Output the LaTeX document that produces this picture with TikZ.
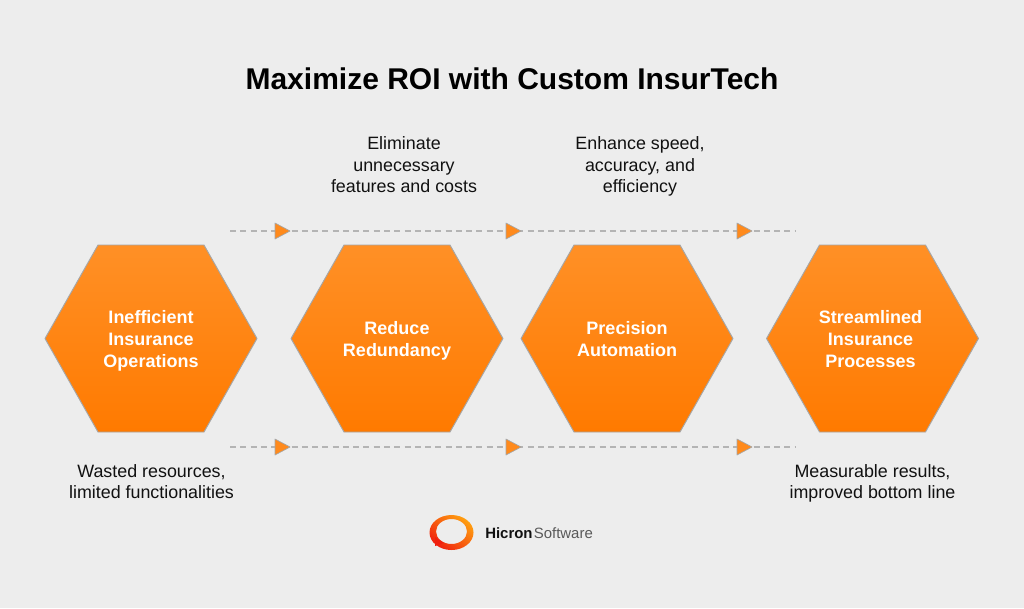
\documentclass[tikz,border=0pt]{standalone}
\usepackage{fontspec}
\setmainfont{Liberation Sans}
\newfontfamily\logofont{Liberation Sans}
\definecolor{bgc}{HTML}{EDEDED}
\definecolor{orgtop}{HTML}{FF9026}
\definecolor{orgbot}{HTML}{FF7A00}
\definecolor{orgmid}{HTML}{FF8A1C}
\definecolor{edgec}{HTML}{A6A6A6}
\definecolor{flowc}{HTML}{B4B4B4}
\definecolor{txt}{HTML}{111111}
\definecolor{logored}{HTML}{F0200F}
\definecolor{logoorg}{HTML}{FFA010}
\tikzset{
 x=0.75pt,y=-0.75pt,
 hexlabel/.style={text=white,font=\fontsize{13.5pt}{16.4pt}\selectfont\bfseries,align=center,inner sep=0},
 note/.style={text=txt,font=\fontsize{13.4pt}{16.2pt}\selectfont,align=center,inner sep=0},
 titletext/.style={text=black,font=\fontsize{22.5pt}{26pt}\selectfont\bfseries,inner sep=0},
 hexshape/.style={draw=edgec,line width=0.7pt,top color=orgtop,bottom color=orgbot,line join=round},
 flow/.style={draw=flowc,line width=0.9pt,dash pattern=on 4.5pt off 3.2pt},
 tri/.style={draw=edgec,line width=0.5pt,fill=orgmid,line join=round},
}
\newcommand{\hexa}[5]{%
 \path[hexshape] (#1-106,338.5) -- (#1-53,245) -- (#1+53,245) -- (#1+106,338.5) -- (#1+53,432) -- (#1-53,432) -- cycle;
 \node[hexlabel] (#2) at (#1+#4,#5) {#3};}
\newcommand{\tria}[2]{\path[tri] (#1-7,#2-8) -- (#1+8,#2) -- (#1-7,#2+8) -- cycle;}
\begin{document}
\begin{tikzpicture}
\path[fill=bgc] (0,0) rectangle (1024,608);
\useasboundingbox (0,0) rectangle (1024,608);
\node[titletext] (title) at (512,79) {Maximize ROI with Custom InsurTech};
\node[note] (n1) at (404,165) {Eliminate\\unnecessary\\features and costs};
\node[note] (n2) at (640,166.5) {Enhance speed,\\accuracy, and\\efficiency};
\node[note] (n3) at (151.5,481.5) {Wasted resources,\\limited functionalities};
\node[note] (n4) at (872.5,483.5) {Measurable results,\\improved bottom line};
\coordinate (ta) at (230,231); \coordinate (tb) at (796,231);
\coordinate (ba) at (230,447); \coordinate (bb) at (796,447);
\draw[flow] (ta) -- (tb);
\draw[flow] (ba) -- (bb);
\tria{282}{231}\tria{513}{231}\tria{744}{231}
\tria{282}{447}\tria{513}{447}\tria{744}{447}
\hexa{151}{h1}{Inefficient\\Insurance\\Operations}{0}{340.5}
\hexa{397}{h2}{Reduce\\Redundancy}{0}{340.5}
\hexa{627}{h3}{Precision\\Automation}{0}{339}
\hexa{872.5}{h4}{Streamlined\\Insurance\\Processes}{-2}{339}
% logo
\path[even odd rule,left color=logoorg,right color=logored,shading angle=-40]
 (451.5,532.5) ellipse [x radius=22,y radius=17.5]
 (451.5,531.5) ellipse [x radius=15.5,y radius=12.5];
\path[fill=logored] (435,537) -- (444,543) -- (435,546) -- cycle;
\node[inner sep=0,anchor=base west,text=txt,font=\logofont\fontsize{11.2pt}{12pt}\selectfont] (logo) at (485,538) {\textbf{Hicron}\hspace{1pt}\textcolor{black!65}{Software}};
\end{tikzpicture}
\end{document}
